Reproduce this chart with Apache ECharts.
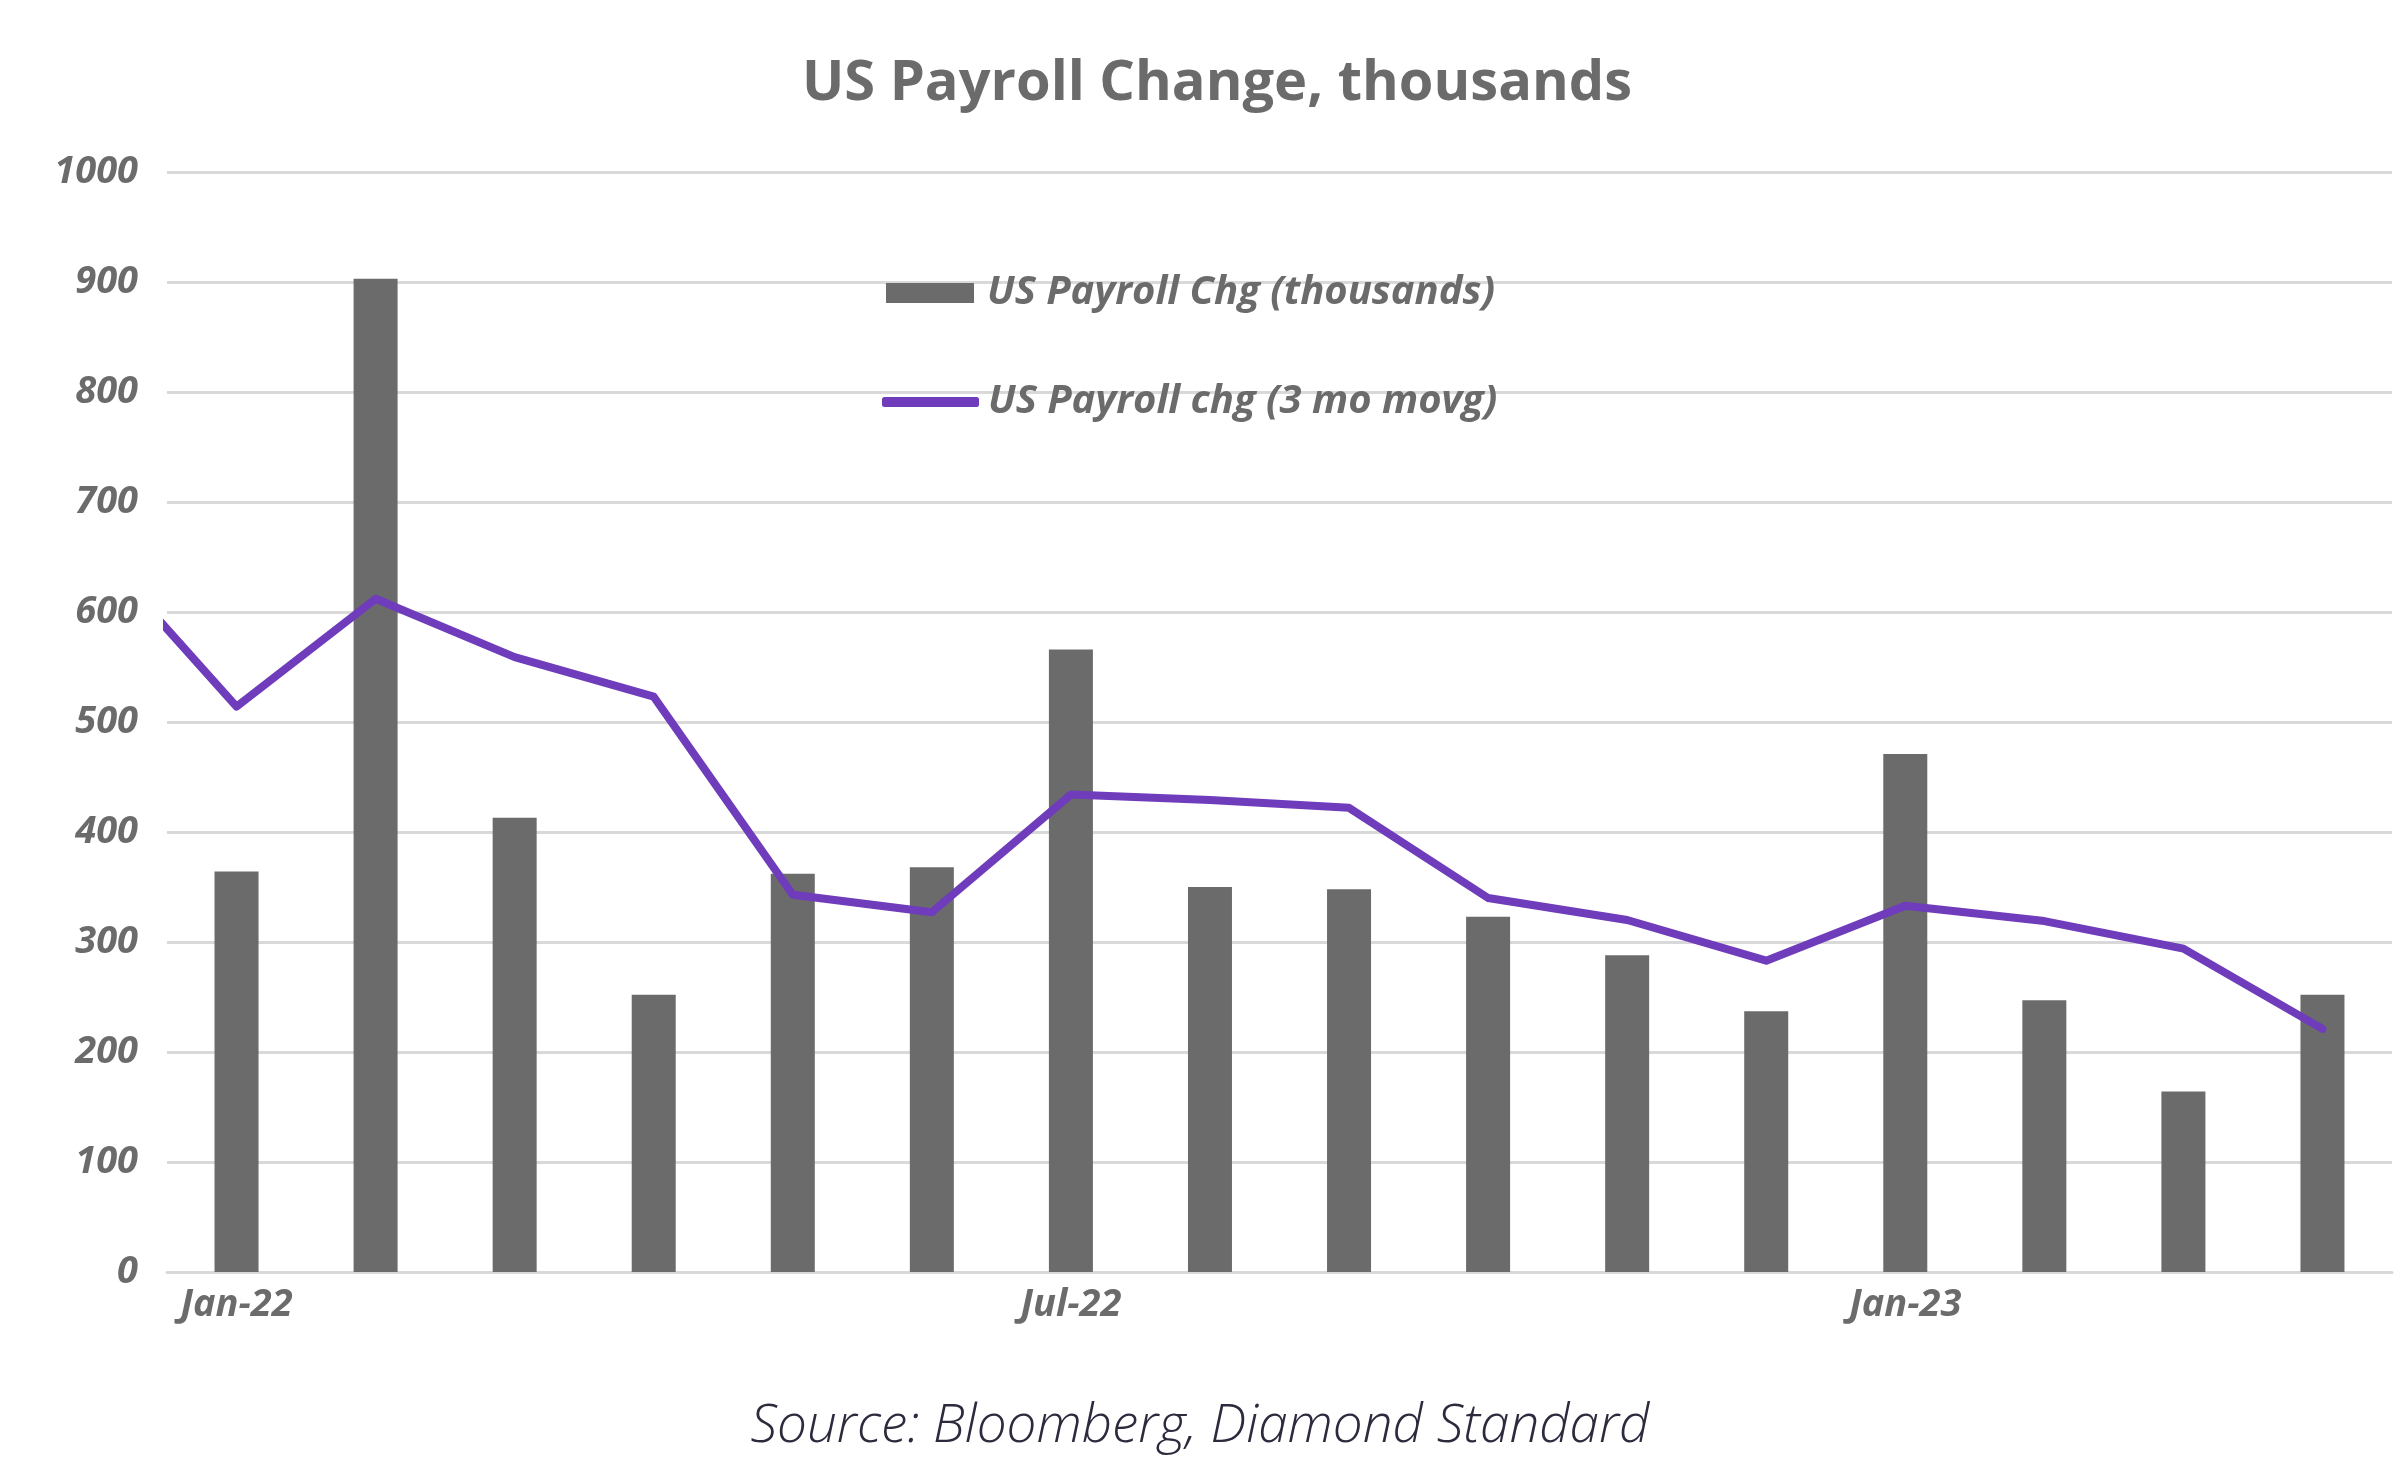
<!DOCTYPE html>
<html>
<head>
<meta charset="utf-8">
<script src="https://cdn.jsdelivr.net/npm/echarts@6/dist/echarts.min.js"></script>
<style>
  html, body { margin: 0; padding: 0; background: #ffffff; }
  #chart { width: 2400px; height: 1462px; }
</style>
</head>
<body>
<div id="chart"></div>
<script>
// Months shown on the category axis
const categories = ['Jan-22','Feb-22','Mar-22','Apr-22','May-22','Jun-22','Jul-22','Aug-22',
                    'Sep-22','Oct-22','Nov-22','Dec-22','Jan-23','Feb-23','Mar-23','Apr-23'];
// Monthly payroll change, thousands
const payrollChg = [364, 903, 413, 252, 362, 368, 566, 350, 348, 323, 288, 237, 471, 247, 164, 252];
// 3-month moving average; first entry is Dec-21 (index -1), clipped at the plot edge
const movAvgIndex = [-1, 0, 1, 2, 3, 4, 5, 6, 7, 8, 9, 10, 11, 12, 13, 14, 15];
const movAvg = [655, 514, 612, 559, 523, 343, 327, 434, 429, 422, 340, 320, 283, 333, 319, 294, 221];
const yTicks = [0, 100, 200, 300, 400, 500, 600, 700, 800, 900, 1000];

const GRAY = '#6b6b6b';
const PURPLE = '#6f3cbb';
const FONT = '"Open Sans"';

const chart = echarts.init(document.getElementById('chart'), null, { renderer: 'canvas' });

const lineData = movAvgIndex.map((x, i) => [x, movAvg[i]]);

chart.setOption({
  backgroundColor: '#ffffff',
  animation: false,
  title: {
    text: 'US Payroll Change, thousands',
    left: 1212,
    textAlign: 'center',
    top: 51,
    textStyle: { fontFamily: FONT, fontWeight: 'bold', fontSize: 56, color: GRAY }
  },
  legend: [
    {
      data: [{ name: 'US Payroll Chg (thousands)', icon: 'rect' }],
      left: 881, top: 268,
      itemWidth: 88, itemHeight: 20,
      textStyle: { fontFamily: FONT, fontWeight: 'bold', fontStyle: 'italic', fontSize: 40, color: GRAY, padding: [0, 0, 0, 8] }
    },
    {
      data: [{ name: 'US Payroll chg (3 mo movg)', icon: 'roundRect', itemStyle: { color: PURPLE } }],
      left: 877, top: 377,
      itemWidth: 97, itemHeight: 10,
      textStyle: { fontFamily: FONT, fontWeight: 'bold', fontStyle: 'italic', fontSize: 40, color: GRAY, padding: [0, 0, 0, 4] }
    }
  ],
  graphic: [{
    type: 'text',
    left: 'center',
    top: 1400,
    style: {
      text: 'Source: Bloomberg, Diamond Standard',
      font: 'italic 300 53px "Open Sans"',
      fill: '#2b2b3d'
    }
  }],
  grid: { left: 167, right: 8, top: 172, bottom: 190, containLabel: false },
  xAxis: [
    {
      type: 'category',
      data: categories,
      boundaryGap: true,
      axisLine: { show: true, lineStyle: { color: '#d9d9d9', width: 3 } },
      axisTick: { show: false },
      axisLabel: {
        interval: 5,
        margin: 14,
        fontFamily: FONT, fontWeight: 'bold', fontStyle: 'italic', fontSize: 38, color: GRAY
      }
    },
    {
      type: 'value',
      min: -0.5, max: 15.5,
      show: false
    }
  ],
  yAxis: {
    type: 'value',
    min: 0, max: 1000, interval: 100,
    axisLine: { show: false },
    axisTick: { show: false },
    splitLine: { lineStyle: { color: '#d9d9d9', width: 3 } },
    axisLabel: {
      margin: 29,
      fontFamily: FONT, fontWeight: 'bold', fontStyle: 'italic', fontSize: 38, color: GRAY,
      formatter: v => yTicks.includes(v) ? String(v) : ''
    }
  },
  series: [
    {
      name: 'US Payroll Chg (thousands)',
      type: 'bar',
      xAxisIndex: 0,
      data: payrollChg,
      barWidth: 44,
      itemStyle: { color: GRAY },
      z: 2
    },
    {
      name: 'US Payroll chg (3 mo movg)',
      type: 'line',
      xAxisIndex: 1,
      data: lineData,
      showSymbol: false,
      symbol: 'none',
      clip: true,
      lineStyle: { color: PURPLE, width: 8, cap: 'round', join: 'round' },
      itemStyle: { color: PURPLE },
      z: 3
    }
  ]
});
</script>
</body>
</html>
